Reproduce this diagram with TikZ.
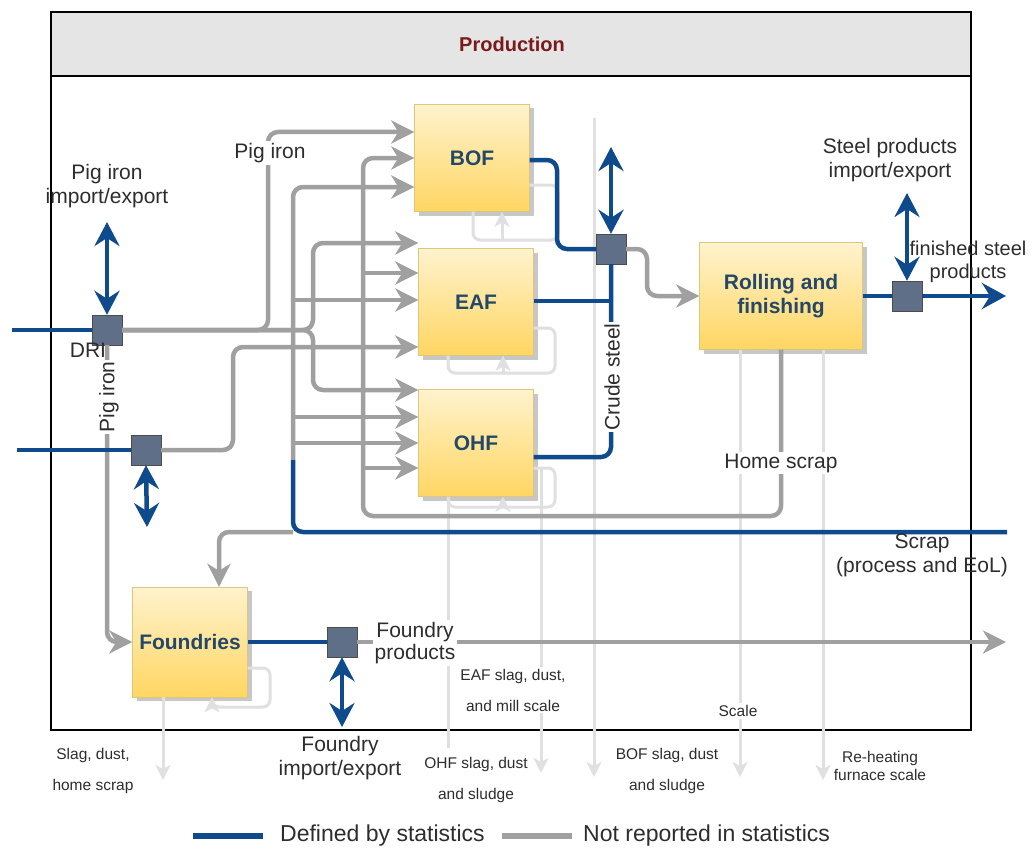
\documentclass[tikz,border=0pt]{standalone}
\usepackage{fontspec}
\setmainfont{Liberation Sans}
\usetikzlibrary{arrows.meta,shadows}
\definecolor{statblue}{RGB}{14,74,140}
\definecolor{flowgray}{RGB}{160,160,160}
\definecolor{wastegray}{RGB}{224,224,224}
\definecolor{boxtop}{RGB}{255,243,206}
\definecolor{boxbot}{RGB}{255,214,98}
\definecolor{boxline}{RGB}{224,198,122}
\definecolor{boxtext}{RGB}{36,72,104}
\definecolor{junction}{RGB}{96,111,136}
\definecolor{labeltext}{RGB}{45,45,45}
\definecolor{headred}{RGB}{122,26,26}
\begin{document}
\begin{tikzpicture}[x=1pt,y=-1pt,
    unit/.style={draw=boxline, top color=boxtop, bottom color=boxbot,
      drop shadow={shadow xshift=4pt, shadow yshift=-4pt, fill=black!22, opacity=1},
      font=\fontsize{21}{24}\selectfont\bfseries, text=boxtext,
      minimum width=115pt, minimum height=107pt, inner sep=0pt, align=center},
    junc/.style={draw=black!70, fill=junction, minimum size=30pt, inner sep=0pt},
    lbl/.style={font=\fontsize{21}{24}\selectfont, text=labeltext, align=center, inner sep=2pt},
    wlbl/.style={font=\fontsize{15.5}{31}\selectfont, text=labeltext, align=center, inner sep=2pt},
    flow/.style={draw=flowgray, line width=4.5pt, rounded corners=10pt,
      -{Stealth[length=23pt,width=23pt,inset=7pt]}},
    stat/.style={draw=statblue, line width=4.5pt, rounded corners=10pt},
    trade/.style={stat, {Stealth[length=24pt,width=25pt,inset=8pt]}-{Stealth[length=24pt,width=25pt,inset=8pt]}},
    waste/.style={draw=wastegray, line width=3pt, rounded corners=7pt},
    wasteout/.style={waste, -{Stealth[length=15pt,width=15pt,inset=4pt]}}]
  \useasboundingbox (0,0) rectangle (1033,848);
  \draw[line width=1.5pt, fill=white] (51,12) rectangle (971,730);
  \draw[line width=1.5pt, fill=black!10] (51,12) rectangle (971,76);
  \node[font=\fontsize{20}{24}\selectfont\bfseries, text=headred] (head) at (512,44) {Production};

  \node[unit] (bof) at (472,158) {BOF};
  \node[unit] (eaf) at (476,302) {EAF};
  \node[unit] (ohf) at (476,443) {OHF};
  \node[unit, minimum width=163pt] (roll) at (781,296) {Rolling and\\finishing};
  \node[unit, minimum height=110pt] (found) at (190,642) {Foundries};

  \node[junc] (dri) at (107,330) {};
  \node[junc] (pj) at (146,450) {};
  \node[junc] (cs) at (611,249) {};
  \node[junc] (fs) at (907,296) {};
  \node[junc] (fj) at (342,642) {};

  \coordinate (driin) at (12,330);
  \coordinate (pjin) at (17,450);
  \coordinate (driex) at (107,222);
  \coordinate (pjex) at (147,527);
  \coordinate (csex) at (611,147);
  \coordinate (fsex) at (907,193);
  \coordinate (fjex) at (342,727);
  \coordinate (fsout) at (1006,296);
  \coordinate (fpout) at (1006,642);
  \coordinate (scrapin) at (1007,532);
  \coordinate (sc) at (293,460);
  \coordinate (hs) at (363,516);

  \draw[waste] (bof.east |- 0,185) -| (558,240) -| (473,0 |- bof.south);
  \draw[wasteout] (502,240) -- (502,0 |- bof.south);
  \draw[waste] (eaf.east |- 0,328) -| (555,373) -| (448,0 |- eaf.south);
  \draw[wasteout] (503,373) -- (503,0 |- eaf.south);
  \draw[waste] (ohf.east |- 0,468) -| (555,507) -| (448,0 |- ohf.south);
  \draw[wasteout] (503,507) -- (503,0 |- ohf.south);
  \draw[wasteout] (found.east |- 0,668) -| (270,707) -| (212,0 |- found.south);
  \draw[wasteout] (163,0 |- found.south) -- (163,780);
  \draw[waste] (448,0 |- ohf.south) -- (448,748);
  \draw[wasteout] (541,468) -- (541,773);
  \draw[wasteout] (594,118) -- (594,777);
  \draw[wasteout] (740,0 |- roll.south) -- (740,777);
  \draw[wasteout] (823,0 |- roll.south) -- (823,780);

  \draw[flow] (dri.east) -| (268,132) -- (bof.west |- 0,132);
  \draw[flow] (dri.east) -| (313,243) -- (eaf.west |- 0,243);
  \draw[flow] (dri.east) -| (313,390) -- (ohf.west |- 0,390);
  \draw[flow] (dri.south) |- (found.west);
  \draw[flow] (pj.east) -| (233,347) -- (eaf.west |- 0,347);
  \draw[flow] (sc) |- (bof.west |- 0,187);
  \draw[flow] (sc |- 0,300) -- (eaf.west |- 0,300);
  \draw[flow] (sc |- 0,417) -- (ohf.west |- 0,417);
  \draw[flow] (sc |- 0,443) -- (ohf.west |- 0,443);
  \draw[flow] (sc |- scrapin) -| (219,0 |- found.north);
  \draw[flow] (roll.south) |- (hs) |- (bof.west |- 0,158);
  \draw[flow] (hs |- 0,273) -- (eaf.west |- 0,273);
  \draw[flow] (hs |- 0,468) -- (ohf.west |- 0,468);
  \draw[flow] (cs.east) -| (647,296) -- (roll.west);
  \draw[flow] (fj.east) -- (fpout);

  \draw[stat] (driin) -- (dri.west);
  \draw[stat] (pjin) -- (pj.west);
  \draw[trade] (dri.north) -- (driex);
  \draw[trade] (pj.south) -- (pjex);
  \draw[trade] (cs.north) -- (csex);
  \draw[trade] (fs.north) -- (fsex);
  \draw[trade] (fj.south) -- (fjex);
  \draw[stat] (bof.east |- 0,160) -| (557,249) -- (cs.west);
  \draw[stat, rounded corners=0pt] (eaf.east |- 0,301) -- (cs.south |- 0,301);
  \draw[stat] (ohf.east |- 0,457) -| (cs.south);
  \draw[stat] (roll.east) -- (fs.west);
  \draw[stat, -{Stealth[length=24pt,width=26pt,inset=8pt]}] (fs.east) -- (fsout);
  \draw[stat] (found.east) -- (fj.west);
  \draw[stat] (scrapin) -| (sc);

  \node[lbl] (pigex) at (107,186) {Pig iron\\import/export};
  \node[lbl, fill=white] (pigtop) at (270,153) {Pig iron};
  \node[lbl] (drilbl) at (88,350) {DRI};
  \node[lbl, fill=white, rotate=90, inner sep=1pt] (pigdown) at (109,397) {Pig iron};
  \node[lbl, fill=white, rotate=90, inner sep=1pt] (crude) at (612,377) {Crude steel};
  \node[lbl, fill=white] (home) at (781,463) {Home scrap};
  \node[lbl] (steelex) at (890,160) {Steel products\\import/export};
  \node[lbl, font=\fontsize{20}{23}\selectfont] (fin) at (968,262) {finished steel\\products};
  \node[lbl] (scrap) at (922,555) {Scrap\\(process and EoL)};
  \node[lbl, fill=white, font=\fontsize{21}{22}\selectfont] (fprod) at (415,643) {Foundry\\products};
  \node[lbl] (foundex) at (340,758) {Foundry\\import/export};
  \node[wlbl] (fwaste) at (93,771) {Slag, dust,\\home scrap};
  \node[wlbl, fill=white] (eafwaste) at (513,690) {EAF slag, dust,\\and mill scale};
  \node[wlbl] (ohfwaste) at (476,780) {OHF slag, dust\\and sludge};
  \node[wlbl] (bofwaste) at (667,771) {BOF slag, dust\\and sludge};
  \node[wlbl, fill=white] (scale) at (738,711) {Scale};
  \node[wlbl, font=\fontsize{15.5}{18}\selectfont] (reheat) at (880,766) {Re-heating\\furnace scale};

  \draw[statblue, line width=6pt] (193,836) -- (263,836);
  \node[lbl, font=\fontsize{23}{27}\selectfont, anchor=west] (legstat) at (278,836) {Defined by statistics};
  \draw[flowgray, line width=6pt] (502,836) -- (572,836);
  \node[lbl, font=\fontsize{23}{27}\selectfont, anchor=west] (legflow) at (581,836) {Not reported in statistics};
\end{tikzpicture}
\end{document}
